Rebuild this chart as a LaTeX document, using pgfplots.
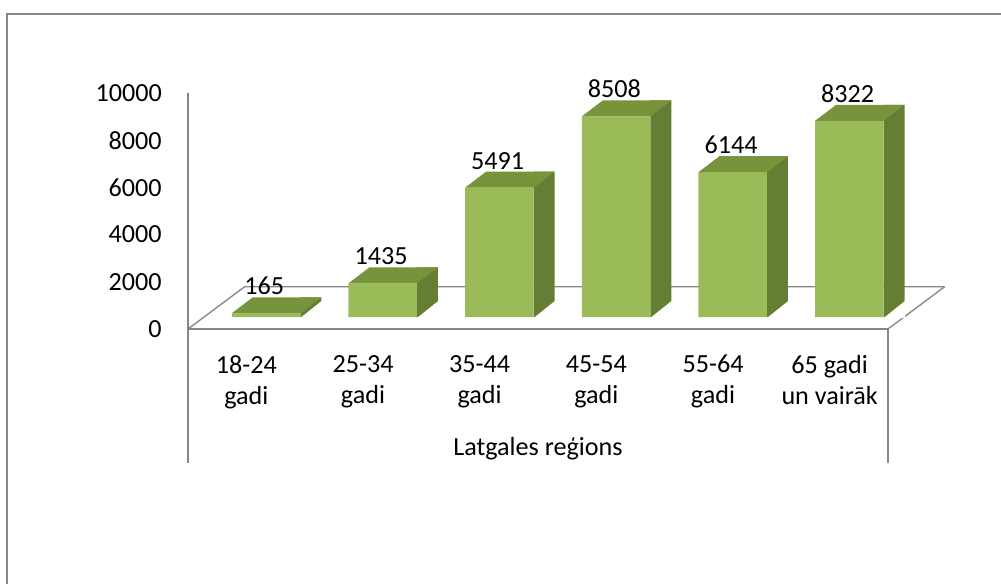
\documentclass[border=0pt]{standalone}
\usepackage{fontspec}
\setmainfont{Carlito}
\usepackage{pgfplots}
\pgfplotsset{compat=1.18}
\usepackage{pgfplotstable}

\definecolor{frontc}{RGB}{155,187,89}
\definecolor{topc}{RGB}{119,147,60}
\definecolor{sidec}{RGB}{101,126,51}
\definecolor{linec}{RGB}{134,134,134}

% top face of a bar, drawn from the front centre of the bar top
\pgfdeclareplotmark{topface}{%
  \pgfpathmoveto{\pgfpoint{-25.7pt}{0pt}}%
  \pgfpathlineto{\pgfpoint{-9.95pt}{12pt}}%
  \pgfpathlineto{\pgfpoint{41.45pt}{12pt}}%
  \pgfpathlineto{\pgfpoint{25.7pt}{0pt}}%
  \pgfpathclose\pgfusepathqfill}
% white wedge below the slanted bottom edge of the side face
\pgfdeclareplotmark{sidecut}{%
  \pgfpathmoveto{\pgfpoint{0pt}{-0.6pt}}%
  \pgfpathlineto{\pgfpoint{16.2pt}{-0.6pt}}%
  \pgfpathlineto{\pgfpoint{16.2pt}{12.35pt}}%
  \pgfpathclose\pgfusepathqfill}

\pgfplotstableread{
i v
0 165
1 1435
2 5491
3 8508
4 6144
5 8322
}\agedata

\newcommand\lbl{\fontsize{19.6}{23.25}\selectfont}

\begin{document}
\begin{tikzpicture}
\useasboundingbox (-141pt,-190.5pt) rectangle (609.75pt,246.75pt);
% chart area frame
\draw[linec, line width=1.5pt] (-135.75pt,-200pt) -- (-135.75pt,236.6pt) -- (620pt,236.6pt);
\begin{axis}[
    scale only axis,
    width=525pt, height=177pt,
    xmin=-0.5, xmax=5.5,
    ymin=-500, ymax=9500,
    enlargelimits=false,
    clip=false,
    axis lines*=left,
    axis line style={-, linec, line width=1pt},
    major tick length=0pt,
    ytick={-500,1500,3500,5500,7500,9500},
    yticklabels={0,2000,4000,6000,8000,10000},
    yticklabel style={font=\lbl, anchor=east, inner sep=0pt, xshift=-19.5pt},
    xtick={0,1,2,3,4,5},
    xticklabels={18-24\\gadi, 25-34\\gadi, 35-44\\gadi, 45-54\\gadi, 55-64\\gadi, 65 gadi\\un vairāk},
    xticklabel style={font=\lbl, align=center, anchor=north, inner sep=0pt, yshift=-19.5pt},
    /pgf/number format/assume math mode=true,
    /pgf/number format/1000 sep={},
]
% floor (left and back edges; the front edge is the x axis line)
\draw[linec, line width=1pt] (axis cs:-0.5,-500) -- (axis cs:-0.015,1290) -- (axis cs:5.985,1290);
% category box edges
\draw[linec, line width=1pt] (axis cs:-0.5,-500) -- ([yshift=-100.5pt]axis cs:-0.5,-500);
\draw[linec, line width=1pt] (axis cs:5.5,-500) -- ([yshift=-100.5pt]axis cs:5.5,-500);
\node[font=\lbl, anchor=base, inner sep=0pt] at ([yshift=-94.5pt]axis cs:2.5,-500) {Latgales reģions};

% side faces
\addplot[ybar, bar width=0.18, bar shift=0.5525, fill=sidec, draw=none]
  table[x=i, y expr=\thisrow{v}+680] {\agedata};
\addplot[only marks, mark=sidecut, mark options={fill=white, draw=none}]
  table[x expr=\thisrow{i}+0.4625, y expr=0] {\agedata};
% right edge of the floor
\draw[linec, line width=1pt] (axis cs:5.5,-500) -- (axis cs:5.985,1290);
% front faces with value labels
\addplot[ybar, bar width=0.587, bar shift=0.169, fill=frontc, draw=none,
  nodes near coords,
  every node near coord/.append style={font=\lbl, anchor=base, inner sep=0pt, xshift=13.5pt, yshift=13.9pt, text=black}]
  table[x=i, y=v] {\agedata};
% top faces
\addplot[only marks, mark=topface, mark options={fill=topc, draw=none}]
  table[x expr=\thisrow{i}+0.169, y=v] {\agedata};
\end{axis}
\end{tikzpicture}
\end{document}
